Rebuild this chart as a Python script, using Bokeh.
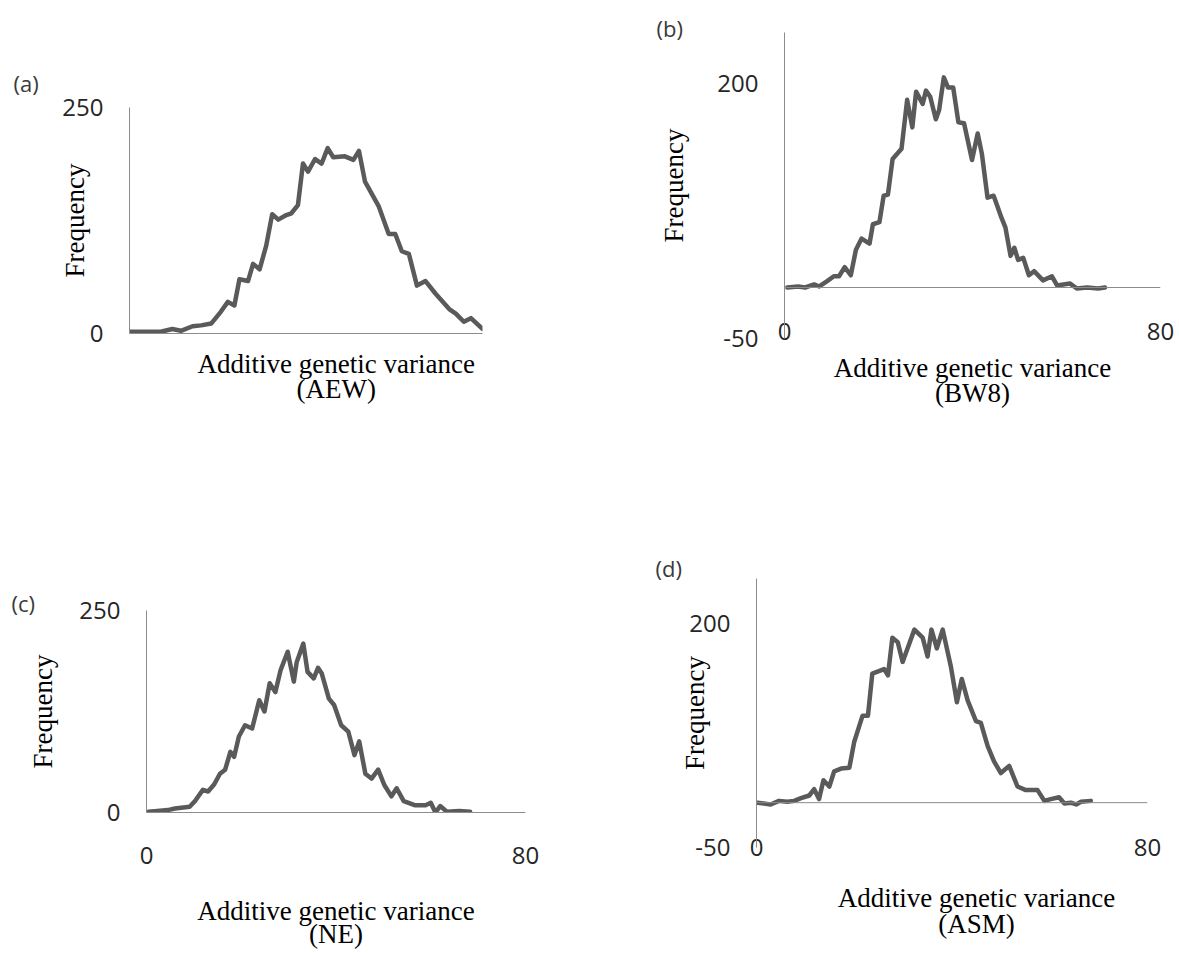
import numpy as np
from bokeh.plotting import figure
from bokeh.models import Range1d, FixedTicker, Span, LinearAxis, Title
from bokeh.layouts import column, row
from bokeh.embed import file_html
from bokeh.resources import INLINE

# ---------------- data ----------------
aew_x = [0, 6.2, 8.5, 10.2, 12.5, 14.2, 16.2, 18.1, 19.5, 20.8, 21.8, 23.5, 24.5, 25.8, 27.1,
         28.3, 29.5, 31.1, 32.1, 33.4, 34.4, 35.4, 36.8, 38.1, 39.3, 40.4, 42.7, 44.4, 45.5,
         46.7, 49.4, 51.4, 52.7, 54.0, 55.4, 57.0, 58.7, 60.7, 63.4, 64.7, 66.3, 67.7, 70]
aew_y = [2, 2, 5, 3, 8, 9, 11, 24, 35, 31, 60, 58, 77, 71, 97,
         132, 126, 131, 133, 142, 188, 179, 193, 188, 205, 195, 196, 192, 202,
         168, 141, 110, 110, 91, 88, 53, 58, 44, 27, 22, 13, 17, 5]

bw8_x = [0.6, 2.9, 4.4, 6.3, 7.4, 9.0, 10.5, 11.6, 12.8, 14.1, 15.2, 16.4, 18.1, 18.8, 20.2,
         21.1, 22.0, 23.0, 24.9, 26.1, 27.2, 28.0, 29.4, 30.1, 31.0, 32.2, 32.9, 33.9, 34.8,
         35.9, 37.0, 38.2, 39.9, 41.1, 42.0, 43.2, 44.5, 46.2, 47.0, 48.1, 48.9, 49.7, 50.8,
         52.0, 53.1, 55.0, 56.9, 58.0, 60.7, 62.2, 64.4, 66.7, 68.2]
bw8_y = [0, 1, 0, 3, 1, 6, 11, 11, 20, 12, 37, 48, 43, 62, 64,
         90, 91, 126, 136, 184, 157, 192, 180, 193, 187, 165, 174, 206, 196,
         196, 162, 161, 125, 151, 131, 88, 90, 68, 59, 31, 39, 27, 29,
         12, 16, 7, 11, 2, 4, -1, 0, -1, 0]

ne_x = [0.4, 2.3, 4.5, 6.0, 9.1, 10.2, 11.9, 13.0, 14.3, 15.5, 16.6, 17.7, 18.5, 19.5, 20.8,
        22.3, 23.8, 24.9, 26.0, 27.2, 28.3, 29.8, 31.1, 31.7, 33.1, 34.0, 35.3, 36.2, 37.0,
        38.5, 39.6, 41.1, 42.6, 43.9, 44.9, 46.2, 47.5, 48.9, 50.2, 51.7, 52.8, 54.3, 56.6,
        58.9, 60.0, 61.0, 62.0, 63.4, 66.0, 68.3]
ne_y = [1, 2, 3, 5, 7, 14, 28, 26, 35, 48, 53, 75, 69, 94, 108,
        104, 139, 125, 160, 149, 176, 199, 162, 186, 209, 174, 166, 179, 172,
        141, 133, 108, 100, 71, 88, 48, 42, 53, 34, 20, 30, 14, 9,
        9, 12, 0, 8, 1, 2, 1]

asm_x = [0.2, 2.9, 4.6, 6.3, 7.7, 9.1, 10.8, 11.8, 12.8, 13.7, 14.9, 15.9, 17.3, 19.0, 20.0,
         21.7, 22.8, 23.7, 26.1, 26.9, 27.8, 28.9, 29.9, 30.9, 32.3, 34.0, 35.0, 35.8, 36.9,
         38.1, 39.8, 41.0, 42.0, 43.2, 44.9, 45.9, 47.3, 48.6, 50.0, 51.7, 53.4, 55.1, 57.5,
         58.9, 60.2, 61.9, 63.0, 64.3, 65.4, 66.4, 68.4]
asm_y = [0, -2, 2, 1, 2, 5, 8, 15, 4, 25, 18, 35, 38, 39, 68,
         97, 97, 144, 149, 142, 184, 179, 157, 172, 193, 184, 163, 193, 172,
         193, 151, 112, 138, 114, 91, 89, 63, 46, 33, 41, 18, 14, 14,
         2, 4, 6, -1, 0, -2, 1, 2]

panel_labels = ["(a)", "(b)", "(c)", "(d)"]
traits = ["(AEW)", "(BW8)", "(NE)", "(ASM)"]
y_label = "Frequency"
x_label = "Additive genetic variance"
y_ticks = [[0, 250], [-50, 200], [0, 250], [-50, 200]]
x_ticks = [[], [0, 80], [0, 80], [0, 80]]

LINE = "#5a5a5a"
AXIS = "#8c8c8c"
TICKTXT = "#262626"
SERIF = "Liberation Serif"
SERIF_SIZE = "27px"


def bare_axis(ax):
    ax.major_tick_line_color = None
    ax.minor_tick_line_color = None
    ax.major_tick_in = 0
    ax.major_tick_out = 0
    ax.minor_tick_in = 0
    ax.minor_tick_out = 0


def text_axis(p, xpos, text, standoff):
    ax = LinearAxis(ticker=FixedTicker(ticks=[xpos]), major_label_overrides={xpos: text})
    bare_axis(ax)
    ax.axis_line_color = None
    ax.major_label_standoff = standoff
    ax.major_label_text_font = SERIF
    ax.major_label_text_font_size = SERIF_SIZE
    ax.major_label_text_color = "black"
    p.add_layout(ax, "below")


def make_panel(idx, xs, ys, width, height, borders, xrange_, yrange_, x_standoff,
               zero_span, title_x, s1, s2, ylab_standoff, plab_offset, plab_standoff,
               trait_as_title=False):
    left, right, top, bottom = borders
    p = figure(width=width, height=height, output_backend="svg", toolbar_location=None,
               x_range=Range1d(*xrange_), y_range=Range1d(*yrange_),
               min_border_left=left, min_border_right=right,
               min_border_top=top, min_border_bottom=bottom)
    try:
        p.frame_align = False
    except AttributeError:
        pass
    p.background_fill_color = "white"
    p.border_fill_color = "white"
    p.outline_line_color = None
    p.xgrid.visible = False
    p.ygrid.visible = False

    # panel letter
    p.title.text = panel_labels[idx]
    p.title.align = "left"
    p.title.offset = plab_offset
    p.title.standoff = plab_standoff
    p.title.vertical_align = "bottom"
    p.title.text_font = "Open Sans"
    p.title.text_font_size = "22px"
    p.title.text_font_style = "normal"
    p.title.text_color = "#3a3a3a"

    yax = p.yaxis[0]
    yax.ticker = FixedTicker(ticks=y_ticks[idx])
    yax.major_label_overrides = {t: str(t) for t in y_ticks[idx]}
    yax.axis_line_color = AXIS
    yax.axis_line_width = 1
    bare_axis(yax)
    yax.major_label_standoff = 26
    yax.major_label_text_font = "Open Sans"
    yax.major_label_text_font_size = "24px"
    yax.major_label_text_color = TICKTXT
    yax.axis_label = y_label
    yax.axis_label_standoff = ylab_standoff
    yax.axis_label_text_font = SERIF
    yax.axis_label_text_font_size = SERIF_SIZE
    yax.axis_label_text_font_style = "normal"
    yax.axis_label_text_color = "black"

    xax = p.xaxis[0]
    xax.ticker = FixedTicker(ticks=x_ticks[idx])
    xax.axis_line_color = None if zero_span else AXIS
    bare_axis(xax)
    xax.major_label_standoff = x_standoff
    xax.major_label_text_font = "Open Sans"
    xax.major_label_text_font_size = "24px"
    xax.major_label_text_color = TICKTXT

    if zero_span:
        p.add_layout(Span(location=0, dimension="width", line_color=AXIS, line_width=1))

    text_axis(p, title_x, x_label, s1)
    if trait_as_title:
        p.add_layout(Title(text=traits[idx], align="center", vertical_align="bottom",
                           standoff=s2, text_font=SERIF, text_font_size=SERIF_SIZE,
                           text_font_style="normal", text_color="black"), "below")
    else:
        text_axis(p, title_x, traits[idx], s2)

    p.line(xs, ys, line_width=4.5, line_color=LINE, line_join="round", line_cap="round")
    return p


fa = make_panel(0, aew_x, aew_y, 560, 540, (129, 78, 107, 207), (0, 70), (0, 250),
                0, False, 41, 15, -8, -31, -116, 20)
fb = make_panel(1, bw8_x, bw8_y, 619, 540, (224, 19, 32, 202), (0, 80), (-50, 250),
                -16, True, 40, 10, -8, 25, -128, -20)
fc = make_panel(2, ne_x, ne_y, 560, 413, (146, 35, 70, 141), (0, 80), (0, 250),
                34, False, 40, 29, -23, 18, -135, -14, trait_as_title=True)
fd = make_panel(3, asm_x, asm_y, 619, 413, (196, 32, 38, 106), (0, 80), (-50, 250),
                -9, True, 45, 24, -7, -24, -101, -8)

layout = column(row(fa, fb), row(fc, fd))

open("out.html", "w").write(file_html(layout, INLINE))
